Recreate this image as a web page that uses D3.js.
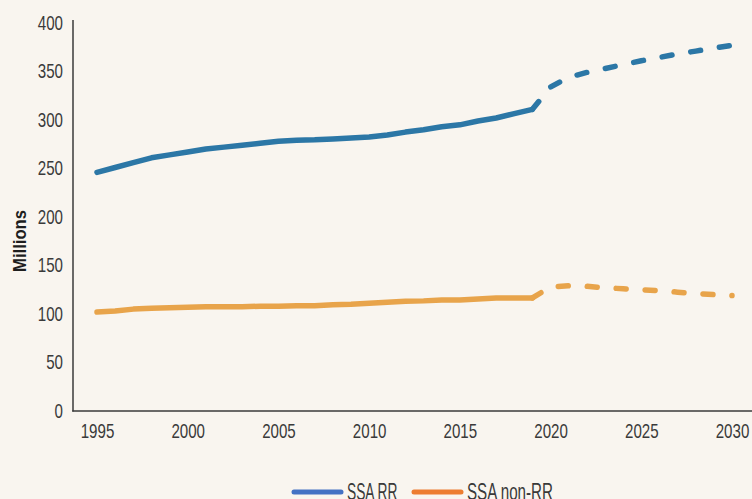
<!DOCTYPE html>
<html>
<head>
<meta charset="utf-8">
<script src="https://cdn.jsdelivr.net/npm/d3@7"></script>
<style>
  html, body { margin: 0; padding: 0; background: #f9f5ef; }
  svg { display: block; }
  text { font-family: "Liberation Sans", Arial, sans-serif; }
</style>
</head>
<body>
<svg id="chart" width="752" height="499"></svg>
<script>
// Historical years and values (millions)
const histYears = [1995,1996,1997,1998,1999,2000,2001,2002,2003,2004,2005,2006,2007,2008,2009,2010,2011,2012,2013,2014,2015,2016,2017,2018,2019];
const rrHist    = [245,250,255,260,263,266,269,271,273,275,277,278,278.5,279.5,280.5,281.5,283.5,286.5,289,292,294,298,301,305.5,310];
const nonRrHist = [101,102,104,105,105.5,106,106.5,106.5,106.5,107,107,107.5,107.5,108.5,109,110,111,112,112.5,113.5,113.5,114.5,115.5,115.5,115.5];

// Projection years and values (millions)
const projYears = [2019,2020,2021,2022,2023,2024,2025,2026,2027,2028,2029,2030];
const rrProj    = [310,333,343,348,352,356,360,363.5,367,370,373,376];
const nonRrProj = [115.5,127,128,127.5,126,125,124,123,121.5,120,119,118];

const yTicks = [0,50,100,150,200,250,300,350,400];
const xTicks = [1995,2000,2005,2010,2015,2020,2025,2030];

const seriesNames = ["SSA RR", "SSA non-RR"];
const lineColors = ["#2c77a6", "#e8a44b"];
const legendColors = ["#4472c4", "#ed7d31"];

const svg = d3.select("#chart");
const W = 752, H = 499;
const textColor = "#3a3a3a";
const digitW = 8.4; // condensed digit advance

const x = d3.scaleLinear().domain([1995, 2030]).range([97, 732]);
const y = d3.scaleLinear().domain([0, 400]).range([410, 22]);

// Y axis labels
const yAxis = d3.axisLeft(y).tickValues(yTicks).tickSize(0).tickPadding(10);
const gy = svg.append("g").attr("transform", "translate(73,0)").call(yAxis);
gy.select(".domain").remove();
gy.selectAll("text")
  .style("font-size", "21px")
  .style("font-family", "'Liberation Sans', Arial, sans-serif")
  .attr("fill", textColor)
  .attr("dy", "0.35em")
  .attr("textLength", d => String(d).length * digitW)
  .attr("lengthAdjust", "spacingAndGlyphs");

// X axis labels
const xAxis = d3.axisBottom(x).tickValues(xTicks).tickFormat(d3.format("d")).tickSize(0).tickPadding(0);
const gx = svg.append("g").attr("transform", "translate(0,411)").call(xAxis);
gx.select(".domain").remove();
gx.selectAll("text")
  .style("font-size", "21px")
  .style("font-family", "'Liberation Sans', Arial, sans-serif")
  .attr("fill", textColor)
  .attr("y", 26.5)
  .attr("dy", 0)
  .attr("textLength", d => String(d).length * digitW)
  .attr("lengthAdjust", "spacingAndGlyphs");

// Axis lines
svg.append("line").attr("x1", 73).attr("x2", 73).attr("y1", 20).attr("y2", 411.5)
  .attr("stroke", "#3a3a3a").attr("stroke-width", 1.5);
svg.append("line").attr("x1", 72.25).attr("x2", W).attr("y1", 411).attr("y2", 411)
  .attr("stroke", "#3a3a3a").attr("stroke-width", 1.5);

// Y axis title
svg.append("text")
  .attr("transform", "translate(25.5,241) rotate(-90)")
  .attr("text-anchor", "middle")
  .style("font-size", "18px")
  .style("font-weight", "bold")
  .attr("fill", "#1e1e1e")
  .attr("textLength", 62)
  .attr("lengthAdjust", "spacingAndGlyphs")
  .text("Millions");

const line = d3.line().x(d => x(d[0])).y(d => y(d[1]));

const hist = [d3.zip(histYears, rrHist), d3.zip(histYears, nonRrHist)];
const proj = [d3.zip(projYears, rrProj), d3.zip(projYears, nonRrProj)];

hist.forEach((pts, i) => {
  svg.append("path").attr("d", line(pts))
    .attr("fill", "none").attr("stroke", lineColors[i])
    .attr("stroke-width", 5.5).attr("stroke-linecap", "round").attr("stroke-linejoin", "round");
});
proj.forEach((pts, i) => {
  svg.append("path").attr("d", line(pts))
    .attr("fill", "none").attr("stroke", lineColors[i])
    .attr("stroke-width", 5.5).attr("stroke-linecap", "round").attr("stroke-linejoin", "round")
    .attr("stroke-dasharray", "10,19");
});

// Legend
const legendX = [294, 414];
const legendTextW = [50.5, 86];
seriesNames.forEach((name, i) => {
  const g = svg.append("g").attr("transform", `translate(${legendX[i]},492)`);
  g.append("line").attr("x1", 0).attr("x2", 47).attr("y1", 0).attr("y2", 0)
    .attr("stroke", legendColors[i]).attr("stroke-width", 5).attr("stroke-linecap", "round");
  g.append("text").attr("x", 53).attr("y", 7.5)
    .style("font-size", "23.5px")
    .attr("fill", textColor)
    .attr("textLength", legendTextW[i])
    .attr("lengthAdjust", "spacingAndGlyphs")
    .text(name);
});
</script>
</body>
</html>
